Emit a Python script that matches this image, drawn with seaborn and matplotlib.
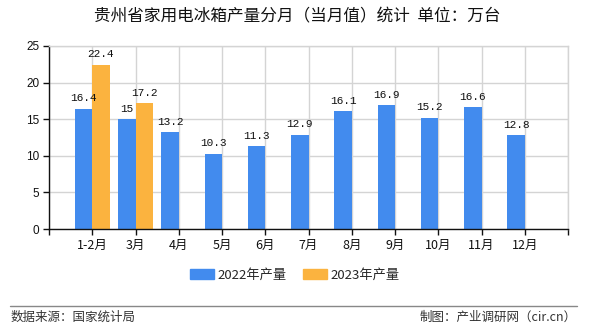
import numpy as np
import pandas as pd
import matplotlib
matplotlib.use("Agg")
import matplotlib.pyplot as plt
import seaborn as sns
from matplotlib.lines import Line2D

# Monthly output of household refrigerators, Guizhou (10k units)
months = ["1-2月", "3月", "4月", "5月", "6月", "7月", "8月", "9月", "10月", "11月", "12月"]
output_2022 = [16.4, 15, 13.2, 10.3, 11.3, 12.9, 16.1, 16.9, 15.2, 16.6, 12.8]
output_2023 = [22.4, 17.2, np.nan, np.nan, np.nan, np.nan, np.nan, np.nan, np.nan, np.nan, np.nan]
series_names = ["2022年产量", "2023年产量"]
colors = ["#428BEE", "#FBB33F"]
y_ticks = [0, 5, 10, 15, 20, 25]

df = pd.DataFrame({
    "月份": months * 2,
    "产量": output_2022 + output_2023,
    "系列": [series_names[0]] * len(months) + [series_names[1]] * len(months),
})

sns.set_theme(style="white")
cjk = ["Noto Sans CJK SC", "DejaVu Sans"]
plt.rcParams["font.family"] = cjk

fig = plt.figure(figsize=(5.9, 3.3), dpi=100)
ax = fig.add_axes([49 / 590, 1 - 229 / 330, 519 / 590, 183 / 330])

sns.barplot(data=df, x="月份", y="产量", hue="系列", order=months,
            hue_order=series_names, palette=colors, width=0.8,
            saturation=1, ax=ax, legend=False, zorder=2,
            linewidth=0, edgecolor="none")

for cont in ax.containers:
    ax.bar_label(cont, fmt="{:g}", padding=4, fontsize=8,
                 family=["Liberation Mono", "DejaVu Sans Mono"], color="#111111")

ax.set_xlim(-1, len(months))
ax.set_ylim(0, 25)
ax.set_xticks(range(-1, len(months) + 1))
ax.set_xticklabels([""] + months + [""], fontsize=9)
ax.set_yticks(y_ticks)
ax.set_yticklabels([str(t) for t in y_ticks], fontsize=8.5,
                   family=["Liberation Sans", "DejaVu Sans"])
ax.set_xlabel("")
ax.set_ylabel("")

ax.grid(True, color="#D4D4D4", linewidth=1, zorder=0)
ax.set_axisbelow(True)
for side in ("top", "right"):
    ax.spines[side].set_color("#D4D4D4")
    ax.spines[side].set_linewidth(1)
for side in ("left", "bottom"):
    ax.spines[side].set_color("#111111")
    ax.spines[side].set_linewidth(1)
ax.tick_params(axis="both", which="both", direction="out", length=4,
               width=1, color="#111111", pad=3, labelcolor="#111111",
               bottom=True, left=True)

fig.text(297 / 590, 1 - 17 / 330, "贵州省家用电冰箱产量分月（当月值）统计  单位：万台",
         ha="center", va="center", fontsize=12, color="#111111")

handles = [plt.Rectangle((0, 0), 1, 1, color=c) for c in colors]
fig.legend(handles, series_names, loc="center", bbox_to_anchor=(295 / 590, 1 - 275 / 330),
           ncol=2, frameon=False, fontsize=9.5, handlelength=1.8, handleheight=0.8,
           handletextpad=0.3, columnspacing=1.2)

fig.add_artist(Line2D([10 / 590, 577 / 590], [1 - 306 / 330, 1 - 306 / 330],
                      color="#888888", linewidth=1, transform=fig.transFigure))
fig.text(11 / 590, 1 - 317 / 330, "数据来源：国家统计局", ha="left", va="center",
         fontsize=9, color="#333333")
fig.text(577 / 590, 1 - 317 / 330, "制图：产业调研网（cir.cn）", ha="right", va="center",
         fontsize=9, color="#333333")

fig.savefig("out.png", dpi=100, facecolor="white")
